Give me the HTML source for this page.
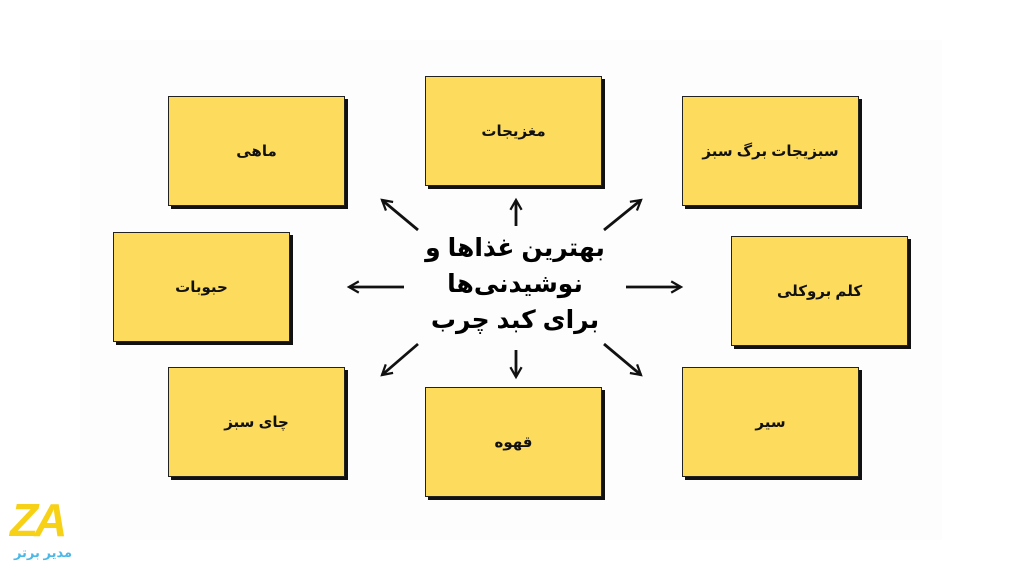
<!DOCTYPE html>
<html><head><meta charset="utf-8"><style>
body{margin:0;width:1024px;height:576px;background:#fff;position:relative;overflow:hidden;font-family:"Liberation Sans","DejaVu Sans",sans-serif}
.b{position:absolute;width:175px;height:108px;background:#fddb5c;border:1px solid #222;box-shadow:3px 3px 0 #111;display:flex;align-items:center;justify-content:center;font-weight:bold;font-size:15px;color:#111;direction:rtl}
.c{position:absolute;left:400px;top:230px;width:230px;text-align:center;direction:rtl;font-weight:900;font-size:25px;line-height:36px;color:#000}
</style></head><body>
<div style="position:absolute;left:80px;top:40px;width:862px;height:500px;background:#fdfdfd"></div>
<div class="b" style="left:168px;top:96px">ماهی</div>
<div class="b" style="left:425px;top:76px">مغزیجات</div>
<div class="b" style="left:682px;top:96px">سبزیجات برگ سبز</div>
<div class="b" style="left:113px;top:232px">حبوبات</div>
<div class="b" style="left:731px;top:236px">کلم بروکلی</div>
<div class="b" style="left:168px;top:367px">چای سبز</div>
<div class="b" style="left:425px;top:387px">قهوه</div>
<div class="b" style="left:682px;top:367px">سیر</div>
<div class="c">بهترین غذاها و<br>نوشیدنی‌ها<br>برای کبد چرب</div>
<svg width="1024" height="576" style="position:absolute;left:0;top:0">
<defs><marker id="a" viewBox="0 0 10 10" refX="8" refY="5" markerWidth="5" markerHeight="5" orient="auto"><path d="M1,1 L8,5 L1,9" fill="none" stroke="#111" stroke-width="1.6"/></marker></defs>
<g stroke="#111" stroke-width="2.8" marker-end="url(#a)">
<line x1="516" y1="226" x2="516" y2="200"/>
<line x1="418" y1="230" x2="382" y2="200"/>
<line x1="604" y1="230" x2="641" y2="200"/>
<line x1="404" y1="287" x2="349" y2="287"/>
<line x1="626" y1="287" x2="681" y2="287"/>
<line x1="418" y1="344" x2="382" y2="375"/>
<line x1="516" y1="350" x2="516" y2="377"/>
<line x1="604" y1="344" x2="641" y2="375"/>
</g></svg>
<div style="position:absolute;left:10px;top:497px;font-size:46px;font-weight:900;color:#f7d116;font-style:italic;letter-spacing:-4px;line-height:46px">ZA</div>
<div style="position:absolute;left:10px;top:545px;font-size:13px;color:#4cb8e8;font-weight:bold;direction:rtl;width:66px;text-align:center">مدیر برتر</div>
</body></html>
